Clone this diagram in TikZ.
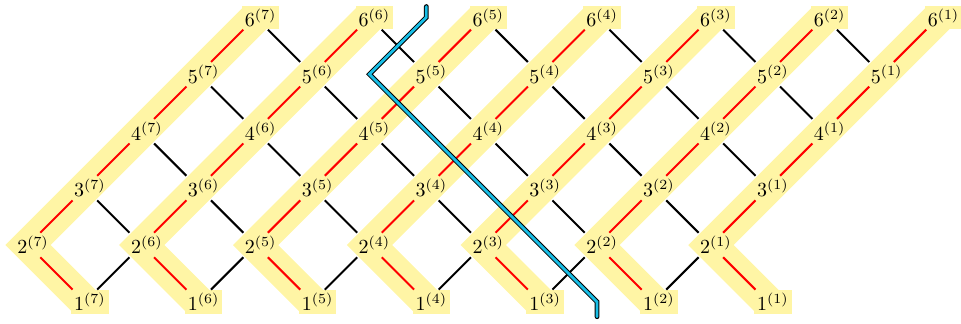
\documentclass[tikz,border=0pt]{standalone}
\definecolor{band}{RGB}{255,245,165}
\definecolor{cyanline}{RGB}{25,190,230}
\begin{document}
\begin{tikzpicture}[x=1cm,y=1cm,
  gp/.style={circle,inner sep=0pt,minimum size=17pt},
  lbl/.style={inner sep=1.5pt,xshift=2.5pt},
  endlbl/.style={lbl,fill=band},
  redl/.style={red,line width=1pt},
  blkl/.style={black,line width=1pt},
  hl/.style={band,line width=16pt,line join=miter,line cap=butt},
  cyanpath/.style={line width=0.5pt,double=cyanline,double distance=1.4pt,line cap=round,line join=miter}]
\useasboundingbox (-14pt,-39pt) rectangle (466.5pt,122.5pt);
% grid points
\foreach \k in {1,...,7}{
  \pgfmathsetmacro\s{2*(7-\k)}
  \node[gp] (g\k-1) at (\s+1,-1) {};
  \foreach \j in {2,...,6}{
    \node[gp] (g\k-\j) at (\s+\j-2,\j-2) {};
  }
}
% highlight bands
\foreach \k in {1,...,7}{
  \draw[hl] (g\k-1.center) -- (g\k-2.center) -- (g\k-3.center) -- (g\k-4.center) -- (g\k-5.center) -- (g\k-6.center);
}
% labels
\foreach \k in {1,...,7}{
  \node[endlbl] (t\k-1) at (g\k-1) {$1^{(\k)}$};
  \node[endlbl] (t\k-6) at (g\k-6) {$6^{(\k)}$};
  \foreach \j in {2,...,5}{
    \node[lbl] (t\k-\j) at (g\k-\j) {$\j^{(\k)}$};
  }
}
% red edges
\foreach \k in {1,...,7}{
  \draw[redl] (g\k-1) -- (g\k-2);
  \foreach \j [evaluate=\j as \jm using int(\j-1)] in {3,...,6}{
    \draw[redl] (g\k-\j) -- (g\k-\jm);
  }
}
% black edges
\foreach \k [evaluate=\k as \km using int(\k-1)] in {2,...,7}{
  \draw[blkl] (g\k-1) -- (g\km-2);
  \foreach \j [evaluate=\j as \jm using int(\j-1)] in {3,...,6}{
    \draw[blkl] (g\k-\j) -- (g\km-\jm);
  }
}
% cut path
\coordinate (c1) at (7,4.19);
\coordinate (c2) at (7,4);
\coordinate (c3) at (6,3);
\coordinate (c4) at (10,-1);
\coordinate (c5) at (10,-1.26);
\draw[cyanpath] (c1) -- (c2) -- (c3) -- (c4) -- (c5);
\end{tikzpicture}
\end{document}
